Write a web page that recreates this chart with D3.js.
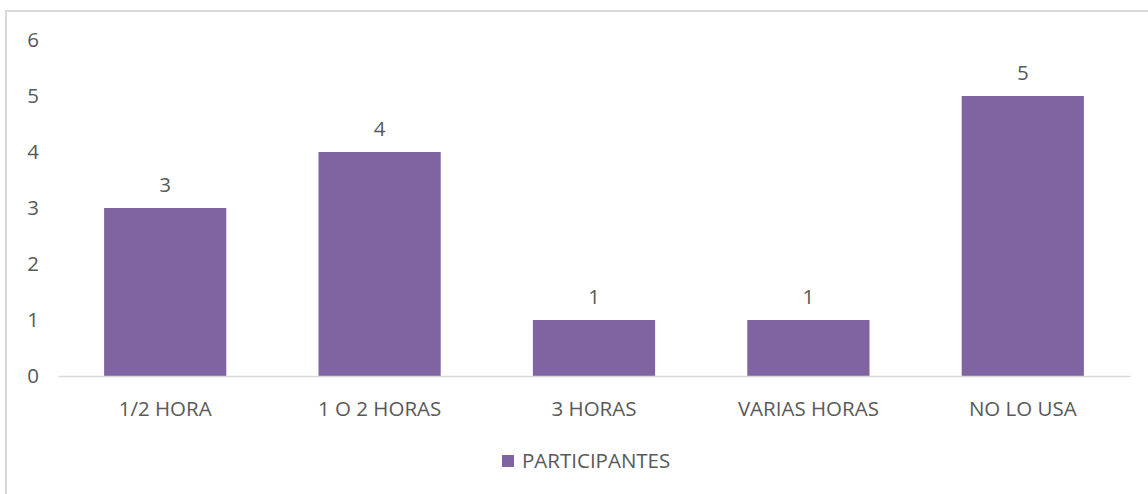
<!DOCTYPE html>
<html>
<head>
<meta charset="utf-8">
<script src="https://cdn.jsdelivr.net/npm/d3@7"></script>
<style>
	body { margin: 0; background: #fff; }
	text { font-family: 'Open Sans', sans-serif; fill: #595959; }
</style>
</head>
<body>
<script>
const categories = ['1/2 HORA', '1 O 2 HORAS', '3 HORAS', 'VARIAS HORAS', 'NO LO USA'];
const participantes = [3, 4, 1, 1, 5];
const yTicks = [0, 1, 2, 3, 4, 5, 6];
const seriesName = 'PARTICIPANTES';

const width = 1148;
const height = 494;
const plotLeft = 58;
const plotRight = 1130;
const plotTop = 40;
const plotBottom = 376;
const barColor = '#8064a2';
const fontSize = 20.5;

const svg = d3.select('body').append('svg').attr('width', width).attr('height', height);

// chart frame
svg
	.append('rect')
	.attr('x', 6)
	.attr('y', 11)
	.attr('width', width + 20)
	.attr('height', height + 20)
	.attr('fill', 'none')
	.attr('stroke', '#d9d9d9')
	.attr('stroke-width', 2);

const xScale = d3.scaleBand().domain(categories).range([ plotLeft, plotRight ]).paddingInner(0.43).paddingOuter(0.215);
const yScale = d3.scaleLinear().domain([ 0, 6 ]).range([ plotBottom, plotTop ]);

const yAxis = d3.axisLeft(yScale).tickValues(yTicks).tickSize(0).tickPadding(0).tickFormat(d3.format('d'));
const yG = svg.append('g').attr('transform', `translate(${40}, 0)`).call(yAxis);
yG.select('.domain').remove();
yG
	.selectAll('text')
	.attr('font-size', fontSize)
	.attr('font-family', "'Open Sans', sans-serif")
	.attr('text-anchor', 'middle')
	.attr('dx', -7)
	.attr('fill', '#595959');

svg
	.selectAll('rect.bar')
	.data(participantes)
	.enter()
	.append('rect')
	.classed('bar', true)
	.attr('x', (d, i) => xScale(categories[i]))
	.attr('y', (d) => yScale(d))
	.attr('width', xScale.bandwidth())
	.attr('height', (d) => yScale(0) - yScale(d))
	.attr('fill', barColor);

const xAxis = d3.axisBottom(xScale).tickSize(0).tickPadding(0);
const xG = svg.append('g').attr('transform', `translate(0, ${plotBottom})`).call(xAxis);
xG.select('.domain').attr('stroke', '#d9d9d9').attr('stroke-width', 1.5);
xG
	.selectAll('text')
	.attr('font-size', fontSize)
	.attr('dy', 0)
	.attr('y', 40)
	.attr('fill', '#595959')
	.attr('font-family', "'Open Sans', sans-serif");

svg
	.selectAll('text.label')
	.data(participantes)
	.enter()
	.append('text')
	.classed('label', true)
	.attr('x', (d, i) => xScale(categories[i]) + xScale.bandwidth() / 2)
	.attr('y', (d) => yScale(d) - 16)
	.attr('text-anchor', 'middle')
	.attr('font-size', fontSize)
	.text((d) => d);

const legend = svg.append('g').attr('transform', `translate(${502}, ${455})`);
legend.append('rect').attr('width', 12).attr('height', 12).attr('fill', barColor);
legend.append('text').attr('x', 20).attr('y', 13).attr('font-size', fontSize).text(seriesName);
</script>
</body>
</html>
